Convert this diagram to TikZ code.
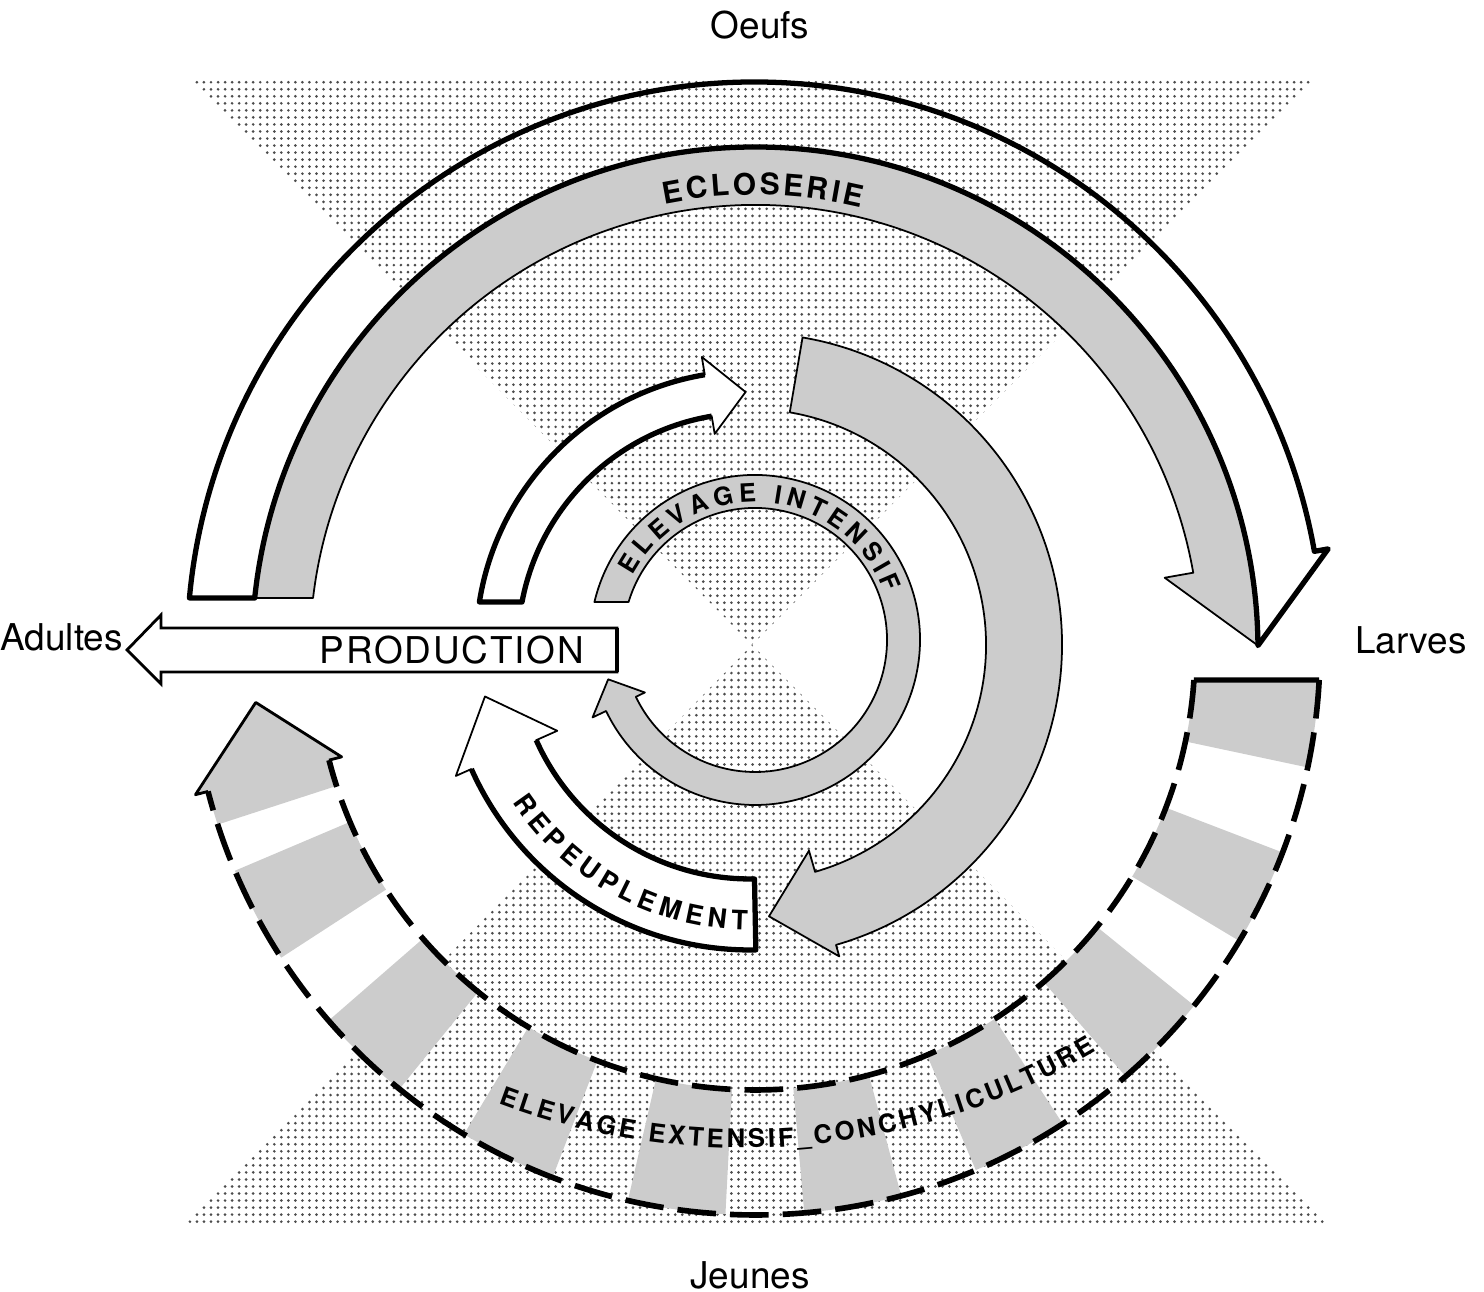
\documentclass[tikz,border=0pt]{standalone}
\usepackage{fontspec}
\setmainfont{TeX Gyre Heros}
\usetikzlibrary{calc,patterns,decorations.text}

\pgfdeclarepatternformonly{finedots}{\pgfpoint{-1pt}{-1pt}}{\pgfpoint{1pt}{1pt}}{\pgfpoint{2pt}{2pt}}%
{\pgfpathcircle{\pgfpointorigin}{0.42pt}\pgfusepath{fill}}

\tikzset{
  dotzone/.style={pattern=finedots, pattern color=black!70},
  graybar/.style={fill=black!20},
  thickline/.style={line width=1.5pt, line join=round},
  thinline/.style={line width=0.5pt, line join=round},
  dashline/.style={line width=1.6pt, dash pattern=on 11pt off 4pt},
  label/.style={font=\fontsize{10.5}{12}\selectfont, inner sep=1pt},
}

\begin{document}
\begin{tikzpicture}[x=0.01cm, y=0.01cm]
\useasboundingbox (0,0) rectangle (1484,1292);
\coordinate (Cout) at (755,642);
\coordinate (Cin) at (750,647);
\coordinate (Cring) at (755,652);
\coordinate (Ctext) at (743,836);
\coordinate (X) at (752,647);

% dotted hourglass
\fill[dotzone] (192,1212) -- (1315,1212) -- (X) -- cycle;
\fill[dotzone] (185,67) -- (1330,67) -- (X) -- cycle;

% ecloserie
\filldraw[graybar, thinline] ([shift={(Cout)}]174.07:503) arc[start angle=174.07, end angle=0.5, radius=503]
  -- ([shift={(Cout)}]10:416) -- ([shift={(Cout)}]10:445)
  arc[start angle=10, end angle=173.29, radius=445] -- cycle;
\draw[thickline] ([shift={(Cout)}]174.74:568) arc[start angle=174.74, end angle=10, radius=568]
  -- ([shift={(Cout)}]10:582) -- ([shift={(Cout)}]0.5:503)
  arc[start angle=0.5, end angle=174.07, radius=503] -- cycle;

% elevage extensif
\fill[graybar] ([shift={(Cout)}]-3.04:565) arc[start angle=-3.04, end angle=-12, radius=565]
  -- ([shift={(Cout)}]-12:440) arc[start angle=-12, end angle=-3.91, radius=440] -- cycle;
\foreach \a [evaluate=\a as \s using \a+5, evaluate=\a as \e using \a-5] in {-26,-44,-62,-80,-98,-116,-134,-152}
  \fill[graybar] ([shift={(Cout)}]\s:565) arc[start angle=\s, end angle=\e, radius=565]
    -- ([shift={(Cout)}]\e:440) arc[start angle=\e, end angle=\s, radius=440] -- cycle;
\fill[graybar] ([shift={(Cout)}]-162:565) arc[start angle=-162, end angle=-165.5, radius=565]
  -- ([shift={(Cout)}]-165.5:578) -- ([shift={(Cout)}]-174:502) -- ([shift={(Cout)}]-165.5:427)
  -- ([shift={(Cout)}]-165.5:440) arc[start angle=-165.5, end angle=-162, radius=440] -- cycle;
\draw[dashline] ([shift={(Cout)}]-3.04:565) arc[start angle=-3.04, end angle=-165.5, radius=565];
\draw[dashline] ([shift={(Cout)}]-3.91:440) arc[start angle=-3.91, end angle=-165.5, radius=440];
\draw[thickline] ([shift={(Cout)}]-3.04:565) -- ([shift={(Cout)}]-3.91:440);
\draw[line width=0.8pt, line join=round] ([shift={(Cout)}]-165.5:565) -- ([shift={(Cout)}]-165.5:578)
  -- ([shift={(Cout)}]-174:502) -- ([shift={(Cout)}]-165.5:427) -- ([shift={(Cout)}]-165.5:440);

% white arrow, upper left
\filldraw[fill=white, thinline] ([shift={(Cin)}]170.97:274) arc[start angle=170.97, end angle=99.5, radius=274]
  -- ([shift={(Cin)}]99.5:292) -- ([shift={(Cin)}]91:253) -- ([shift={(Cin)}]99.5:214)
  -- ([shift={(Cin)}]99.5:232) arc[start angle=99.5, end angle=169.32, radius=232] -- cycle;
\draw[thickline] ([shift={(Cin)}]99.5:274) arc[start angle=99.5, end angle=170.97, radius=274]
  -- ([shift={(Cin)}]169.32:232) arc[start angle=169.32, end angle=99.5, radius=232];

% big gray arrow
\filldraw[graybar, thinline] ([shift={(Cin)}]80.3:312) arc[start angle=80.3, end angle=-74, radius=312]
  -- ([shift={(Cin)}]-74:324) -- ([shift={(Cin)}]-86:272) -- ([shift={(Cin)}]-74:214)
  -- ([shift={(Cin)}]-74:236) arc[start angle=-74, end angle=80.3, radius=236] -- cycle;

% repeuplement
\filldraw[fill=white, thinline] ([shift={(Cin)}]271.1:305) arc[start angle=271.1, end angle=204, radius=305]
  -- ([shift={(Cin)}]204:322) -- ([shift={(Cin)}]191:270) -- ([shift={(Cin)}]204:211)
  -- ([shift={(Cin)}]204:234) arc[start angle=204, end angle=271.1, radius=234] -- cycle;
\draw[thickline] ([shift={(Cin)}]204:305) arc[start angle=204, end angle=271.1, radius=305]
  -- ([shift={(Cin)}]271.1:234) arc[start angle=271.1, end angle=204, radius=234];

% elevage intensif ring
\filldraw[graybar, thinline] ([shift={(Cring)}]166.69:165) arc[start angle=166.69, end angle=-154.5, radius=165]
  -- ([shift={(Cring)}]-154.5:180) -- ([shift={(Cring)}]-165:152) -- ([shift={(Cring)}]-154.5:122)
  -- ([shift={(Cring)}]-154.5:132) arc[start angle=-154.5, end angle=163.27, radius=132] -- cycle;

% production
\filldraw[fill=white, line width=0.8pt, line join=miter] (617,620) -- (161,620) -- (161,608) -- (127,642)
  -- (161,677) -- (161,664) -- (617,664) -- cycle;
\draw[line width=1.3pt] (617,620) -- (617,664);
\node[font=\fontsize{10.5}{12}\selectfont\addfontfeature{LetterSpace=5}] (prod) at (452,642) {PRODUCTION};

% curved texts
\path[decorate, decoration={text along path, text align=fit to path,
  text={|\bfseries\fontsize{8.5}{9}\selectfont|ECLOSERIE}}]
  ([shift={(Cout)}]101.5:455) arc[start angle=101.5, end angle=76.5, radius=455];
\path[decorate, decoration={text along path, text align=fit to path,
  text={|\bfseries\fontsize{7.2}{9}\selectfont|ELEVAGE INTENSIF}}]
  ([shift={(Cring)}]152:138) arc[start angle=152, end angle=20, radius=138];
\path[decorate, decoration={text along path, text align=fit to path,
  text={|\bfseries\fontsize{7.6}{9}\selectfont|REPEUPLEMENT}}]
  ([shift={(Cin)}]213.5:285) arc[start angle=213.5, end angle=269.5, radius=285];
\path[decorate, decoration={text along path, text align=fit to path,
  text={|\bfseries\fontsize{7.3}{9}\selectfont|ELEVAGE EXTENSIF{\_}CONCHYLICULTURE}}]
  ([shift={(Ctext)}]249.3:692) arc[start angle=249.3, end angle=300.7, radius=692];

% stage labels
\node[label] (oeufs) at (760,1267) {Oeufs};
\node[label, anchor=east] (adultes) at (127,655) {Adultes};
\node[label] (larves) at (1411,652) {Larves};
\node[label] (jeunes) at (750,17) {Jeunes};
\end{tikzpicture}
\end{document}
